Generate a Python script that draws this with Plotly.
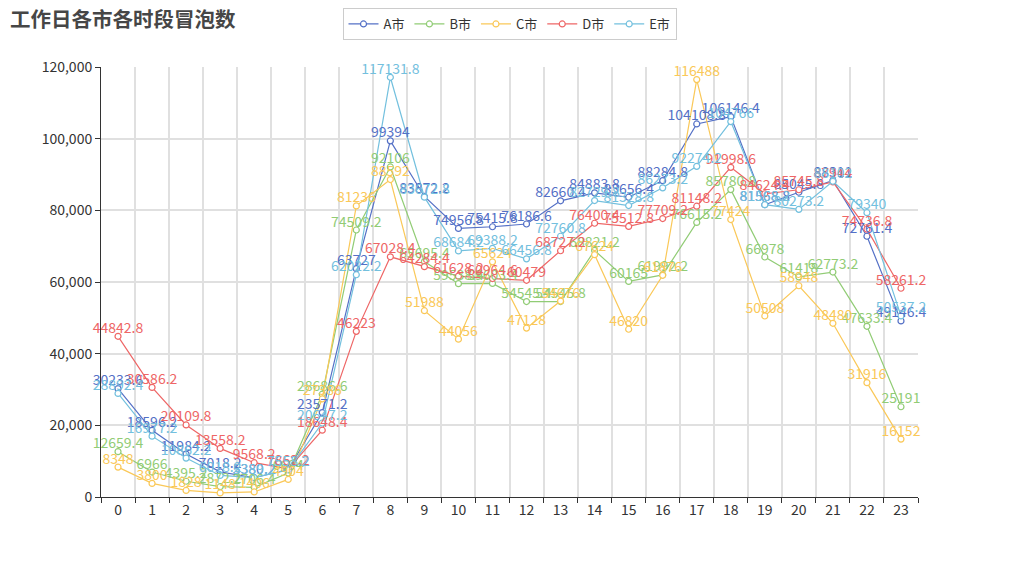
import plotly.graph_objects as go

hours = [str(h) for h in range(24)]
series_names = ["A市", "B市", "C市", "D市", "E市"]
colors = ["#5470c6", "#91cc75", "#fac858", "#ee6666", "#73c0de"]

a_vals = [30233.6, 18596.2, 11984.2, 7018.2, 5380.2, 7652.2, 23571.2, 63727, 99394, 83872.2,
          74956.8, 75415.8, 76186.6, 82660.4, 84883.8, 83656.4, 88284.8, 104108.8, 106146.4,
          81568.8, 85045.8, 88311, 72761.4, 49146.4]
b_vals = [12659.4, 6966, 4395.2, 2872.2, 2706.4, 6694, 28686.6, 74509.2, 92106, 65695.4,
          59538.4, 59603.4, 54545.4, 54545.8, 68821.2, 60165, 61992.2, 76615.2, 85780.8,
          66978, 61418, 62773.2, 47633.4, 25191]
c_vals = [8348, 3800, 1828, 1148, 1406, 4904, 27386, 81236, 88592, 51988,
          44056, 65624, 47128, 54676, 67624, 46820, 61876, 116488, 77424,
          50508, 58948, 48480, 31916, 16152]
d_vals = [44842.8, 30586.2, 20109.8, 13558.2, 9568.2, 7862.2, 18648.4, 46223, 67028.4, 64284.4,
          61628.2, 60964.6, 60479, 68727.2, 76400.4, 75512.8, 77709.2, 81148.2, 91998.6,
          84624.4, 85745.8, 87944, 74736.8, 58261.2]
e_vals = [28892.4, 16977.2, 10862.2, 6018.2, 5389.2, 7558.2, 20647.2, 62022.2, 117131.8, 83672.8,
          68684.2, 69388.2, 66456.8, 72760.8, 82729.8, 81328.8, 86273.2, 92274.2, 104766,
          81568.2, 80273.2, 88102, 79340, 50537.2]
all_vals = [a_vals, b_vals, c_vals, d_vals, e_vals]

x_idx = list(range(len(hours)))


def fmt(v):
    return str(int(v)) if float(v).is_integer() else f"{v:.1f}"


fig = go.Figure()
font_fam = "Noto Sans CJK SC, Noto Sans, sans-serif"

for name, col, vals in zip(series_names, colors, all_vals):
    fig.add_trace(go.Scatter(
        x=x_idx, y=vals, name=name, mode="lines+markers",
        line=dict(color=col, width=1.2),
        marker=dict(symbol="circle", size=6, color="white", line=dict(color=col, width=1.2)),
    ))
for name, col, vals in zip(series_names, colors, all_vals):
    fig.add_trace(go.Scatter(
        x=x_idx, y=vals, mode="text", showlegend=False,
        text=[fmt(v) for v in vals], textposition="top center",
        textfont=dict(color=col, size=14, family=font_fam),
        cliponaxis=False, hoverinfo="skip",
    ))

W, H = 1003, 550
fig.update_layout(
    width=W, height=H,
    margin=dict(l=93, r=93, t=59, b=61, autoexpand=False),
    plot_bgcolor="white", paper_bgcolor="white",
    font=dict(family=font_fam, color="#333", size=12),
    title=dict(text="<b>工作日各市各时段冒泡数</b>", x=2/W, xanchor="left", xref="container",
               y=1-12/H, yanchor="middle", font=dict(size=20.5, color="#464646"),
               pad=dict(l=0, t=0)),
    legend=dict(orientation="h", x=0.5, xanchor="center", y=1+59/430, yanchor="top",
                bordercolor="#cccccc", borderwidth=1, font=dict(size=13, color="#333"),
                itemwidth=30, tracegroupgap=0),
    showlegend=True,
)
fig.update_xaxes(
    range=[-0.5, 23.5], tickmode="array", tickvals=x_idx, ticktext=hours,
    showgrid=False, ticks="", showline=True, linecolor="#333", linewidth=1,
    tickfont=dict(size=14, color="#333"), zeroline=False,
    minor=dict(tickmode="linear", tick0=-0.5, dtick=1, showgrid=True,
               gridcolor="#e0e0e0", gridwidth=2, ticks="outside", ticklen=5, tickcolor="#333"),
)
fig.update_yaxes(
    range=[0, 120000], tickmode="linear", tick0=0, dtick=20000, tickformat=",",
    showgrid=True, gridcolor="#e0e0e0", gridwidth=2, showline=True, linecolor="#333",
    linewidth=1, ticks="outside", ticklen=5, tickcolor="#333", zeroline=False,
    tickfont=dict(size=14, color="#333"),
)

fig.write_html("out.html")
